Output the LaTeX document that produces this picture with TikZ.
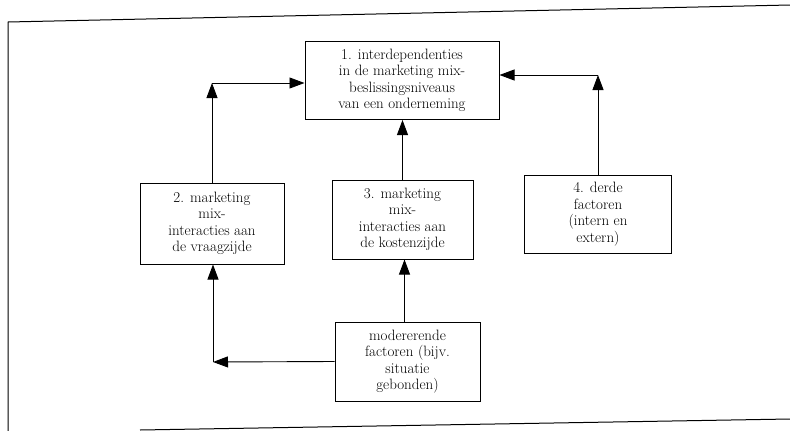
\documentclass[tikz,border=0pt]{standalone}
\usetikzlibrary{arrows.meta,calc}
\begin{document}
\begin{tikzpicture}[x=1pt,y=-1pt,
  box/.style={draw,line width=1pt,inner sep=0pt,align=center,
    font=\fontsize{15}{16.5}\selectfont},
  conn/.style={line width=0.9pt},
  arr/.style={conn,-{Triangle[length=15pt,width=11pt]}}]
\useasboundingbox (0,0) rectangle (790,431);
% outer frame (skewed scan)
\coordinate (f1) at (8,431);
\coordinate (f2) at (8,22);
\coordinate (f3) at (790,5);
\coordinate (f4) at (140,430);
\coordinate (f5) at (790,419);
\draw[line width=1pt] (f1) -- (f2) -- (f3);
\draw[line width=1pt] (f4) -- (f5);
% boxes
\node[box,minimum width=194pt,minimum height=78pt] (b1) at (402,80.5)
  {1. interdependenties\\in de marketing mix-\\beslissingsniveaus\\van een onderneming};
\node[box,minimum width=144pt,minimum height=81pt] (b2) at (212,223.5)
  {2. marketing\\mix-\\interacties aan\\de vraagzijde};
\node[box,minimum width=141pt,minimum height=79pt] (b3) at (402.5,219.5)
  {3. marketing\\mix-\\interacties aan\\de kostenzijde};
\node[box,minimum width=147pt,minimum height=78pt] (b4) at (598,214)
  {4. derde\\factoren\\(intern en\\extern)};
\node[box,minimum width=145pt,minimum height=79pt] (b5) at (407.5,361.5)
  {modererende\\factoren (bijv.\\situatie\\gebonden)};
% corner points
\coordinate (c1) at (212,83);
\coordinate (c2) at (598,75);
\coordinate (c3) at (213,362);
% connectors
\draw[arr] (b2.north) -- (c1);
\draw[arr] (c1) -- (c1 -| b1.west);
\draw[arr] (b4.north) -- (c2);
\draw[arr] (c2) -- (c2 -| b1.east);
\draw[arr] (b3.north) -- (b3.north |- b1.south);
\draw[arr] ($(b5.north)+(-3,0)$) -- ($(b5.north |- b3.south)+(-3,0)$);
\draw[arr] (b5.west) -- (c3);
\draw[arr] (c3) -- (c3 |- b2.south);
\end{tikzpicture}
\end{document}
